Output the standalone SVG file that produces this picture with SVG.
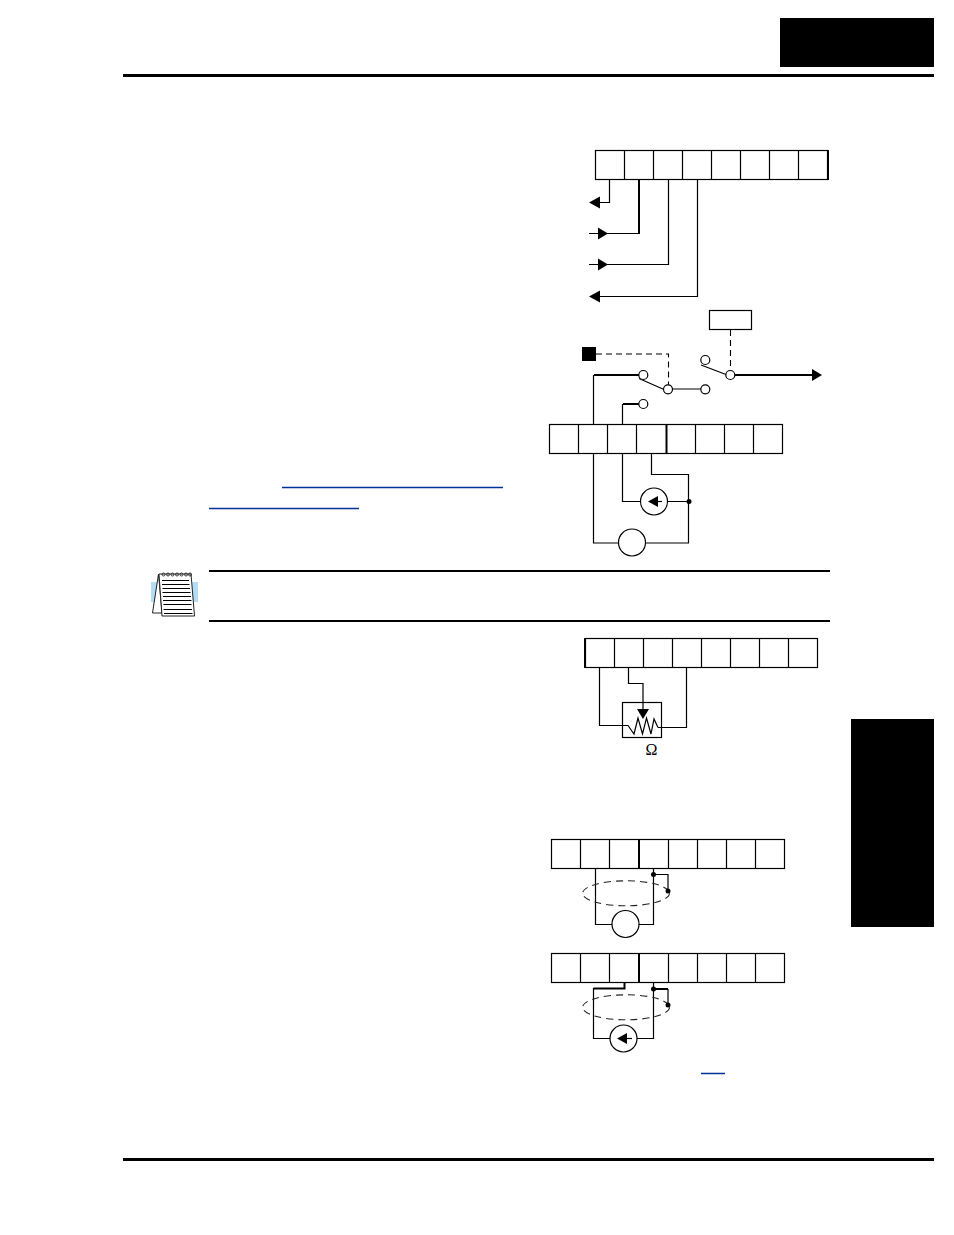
<svg xmlns="http://www.w3.org/2000/svg" width="954" height="1235" viewBox="0 0 954 1235">
<style>
.w{fill:none;stroke:#000;stroke-width:1.2}
.t{fill:none;stroke:#000;stroke-width:2}
.d{fill:none;stroke:#000;stroke-width:1.1;stroke-dasharray:6 4}
.e{fill:none;stroke:#222;stroke-width:1.1;stroke-dasharray:7 5}
.c{fill:#fff;stroke:#000;stroke-width:1.2}
.a{fill:#000}
.l{fill:none;stroke:#003399;stroke-width:1.4}
.s{fill:#fff;stroke:#000;stroke-width:1.2}
</style>
<g id="page-header"><rect x="780" y="18" width="154" height="49" fill="#000"/><rect x="123" y="74" width="811" height="3" fill="#000"/></g>
<g id="page-footer"><rect x="123" y="1158" width="811" height="3" fill="#000"/></g>
<g id="side-tab"><rect x="851" y="719" width="83" height="208" fill="#000"/></g>
<g id="links"><path class="l" d="M282 487.500H503M209 508.500H359M701 1073.500H725"/></g>
<g id="note-rules"><rect x="209" y="570" width="621" height="2" fill="#000"/><rect x="209" y="620" width="621" height="2" fill="#000"/></g>
<g id="note-icon">
<rect x="151" y="582" width="47" height="20" fill="#b3dcf5"/>
<path d="M158.500 574L152.500 613H162Z" fill="#fff" stroke="#222" stroke-width="1"/>
<path d="M159 574H191L194.500 616H162Z" fill="#fff" stroke="#222" stroke-width="1"/>
<g fill="none" stroke="#222" stroke-width="0.9"><circle cx="163.500" cy="574.500" r="1.500"/><circle cx="168" cy="574.500" r="1.500"/><circle cx="172.500" cy="574.500" r="1.500"/><circle cx="177" cy="574.500" r="1.500"/><circle cx="181.500" cy="574.500" r="1.500"/><circle cx="186" cy="574.500" r="1.500"/><circle cx="190" cy="574.500" r="1.500"/></g>
<path d="M162 580.500H189M162 584.500H189.500M162.500 588.500H190M162.500 592.500H190.500M163 596.500H191M163 600.500H191.500M163.500 604.500H191.500M163.500 609.500H192M164 613.500H192.500" fill="none" stroke="#000" stroke-width="1"/>
</g>
<g id="strip-1"><rect class="s" x="595.500" y="150.500" width="232" height="29"/><path class="w" d="M624.500 150V180M653.500 150V180M682.500 150V180M711.500 150V180M740.500 150V180M769.500 150V180M798.500 150V180"/><rect x="827" y="150" width="2" height="30" fill="#000"/></g>
<g id="strip-2"><rect class="s" x="549.500" y="424.500" width="233" height="29"/><path class="w" d="M578.500 424V454M607.500 424V454M636.500 424V454M695.500 424V454M724.500 424V454M753.500 424V454"/><rect x="665.500" y="424" width="2" height="30" fill="#000"/></g>
<g id="strip-3"><rect class="s" x="585.500" y="638.500" width="232" height="29"/><path class="w" d="M614.500 638V668M643.500 638V668M672.500 638V668M701.500 638V668M730.500 638V668M759.500 638V668M788.500 638V668"/><rect x="584" y="638" width="2" height="30" fill="#000"/></g>
<g id="strip-4"><rect class="s" x="551.500" y="839.500" width="233" height="29"/><path class="w" d="M580.500 839V869M609.500 839V869M668.500 839V869M697.500 839V869M726.500 839V869M755.500 839V869"/><rect x="638" y="839" width="2" height="30" fill="#000"/></g>
<g id="strip-5"><rect class="s" x="551.500" y="953.500" width="233" height="29"/><path class="w" d="M580.500 953V983M609.500 953V983M668.500 953V983M697.500 953V983M726.500 953V983M755.500 953V983"/><rect x="638" y="953" width="2" height="30" fill="#000"/></g>
<g id="connectors">
<path class="w" d="M609.500 180V202.500H598"/>
<path class="t" d="M639 180V234"/><path class="w" d="M640 233.500H589"/>
<path class="w" d="M668.500 180V264.500H589"/>
<path class="w" d="M697.500 180V296.500H598"/>
<path class="d" d="M730.500 330V370"/>
<path class="d" d="M596 354H668.500V385"/>
<path class="t" d="M639 375H594"/><path class="w" d="M593.500 375V424"/>
<path class="w" d="M639 378.500L664 389.500M672 389H701"/>
<path class="w" d="M701 365L726 374.500"/>
<path class="t" d="M734 375H812"/>
<path class="t" d="M639 404H623"/><path class="w" d="M622.500 404V424"/>
<path class="w" d="M593.500 454V543H618M646 543H688.500V474.500H651.500V454"/>
<path class="w" d="M622.500 454V501.500H640M668 501.500H688.500"/>
<path class="w" d="M599.500 668V725.500H625"/>
<path class="w" d="M628.500 668V683.500H643V710"/>
<path class="w" d="M686.500 668V727.500H658"/>
<path class="w" d="M595.500 869V924.500H612M639 924.500H653.500V869"/>
<path class="w" d="M653.500 874.500H668V891"/>
<path class="t" d="M624.500 983V988.500H593.500"/><path class="w" d="M593.500 988V1038.500H610M637 1038.500H653.500V983"/>
<path class="t" d="M653.500 989H668"/><path class="w" d="M668 989V1005"/>
</g>
<g id="arrowheads">
<path class="a" d="M589 202.500L600 196.500V208.500Z"/>
<path class="a" d="M608 233.500L598 227.500V239.500Z"/>
<path class="a" d="M608 264.500L598 258.500V270.500Z"/>
<path class="a" d="M589 296.500L600 290.500V302.500Z"/>
<path class="a" d="M822 375L812 369V381Z"/>
</g>
<g id="cbox"><rect x="709.500" y="310.500" width="42" height="19" fill="#fff" stroke="#000" stroke-width="1.2"/></g>
<g id="square"><rect x="582" y="347" width="14" height="14" fill="#000"/></g>
<g id="switch-contacts">
<circle class="c" cx="643.300" cy="375" r="4.500"/><circle class="c" cx="668" cy="389.300" r="4.500"/><circle class="c" cx="705.300" cy="389.300" r="4.500"/><circle class="c" cx="705.300" cy="360" r="4.500"/><circle class="c" cx="730.300" cy="375" r="4.500"/><circle class="c" cx="643.300" cy="404" r="4.500"/>
</g>
<g id="source-1"><circle class="c" cx="654" cy="501.500" r="13.500"/><path class="a" d="M648 501.500L658 496V507Z"/><path class="w" d="M656 501.500H662"/></g>
<g id="meter-1"><circle class="c" cx="632" cy="542.500" r="13.500"/></g>
<circle id="dot-1" class="a" cx="689" cy="501.500" r="2.500"/>
<g id="pot"><rect x="622.500" y="702.500" width="39" height="35" fill="none" stroke="#000" stroke-width="1.2"/><path class="a" d="M637 709H649L643 719Z"/><path class="w" d="M625 725.500H628L634 734L638 718L642.500 734L646.500 718L651 734L654 719L658 727.500"/><text x="651.500" y="755" font-family="'Liberation Serif',serif" font-size="16" text-anchor="middle">Ω</text></g>
<g id="shield-1"><ellipse class="e" cx="626" cy="893.300" rx="43.500" ry="12.500"/><circle class="c" cx="625.500" cy="924" r="13.500"/><circle class="a" cx="653.500" cy="874.500" r="2.500"/><circle class="a" cx="668" cy="891" r="2.500"/></g>
<g id="shield-2"><ellipse class="e" cx="626" cy="1007.300" rx="43.500" ry="12.500"/><circle class="c" cx="623.500" cy="1038.500" r="13.500"/><path class="a" d="M617 1038.500L627 1033V1044Z"/><path class="w" d="M625 1038.500H632"/><circle class="a" cx="653.500" cy="989" r="2.500"/><circle class="a" cx="668" cy="1005" r="2.500"/></g>
</svg>
